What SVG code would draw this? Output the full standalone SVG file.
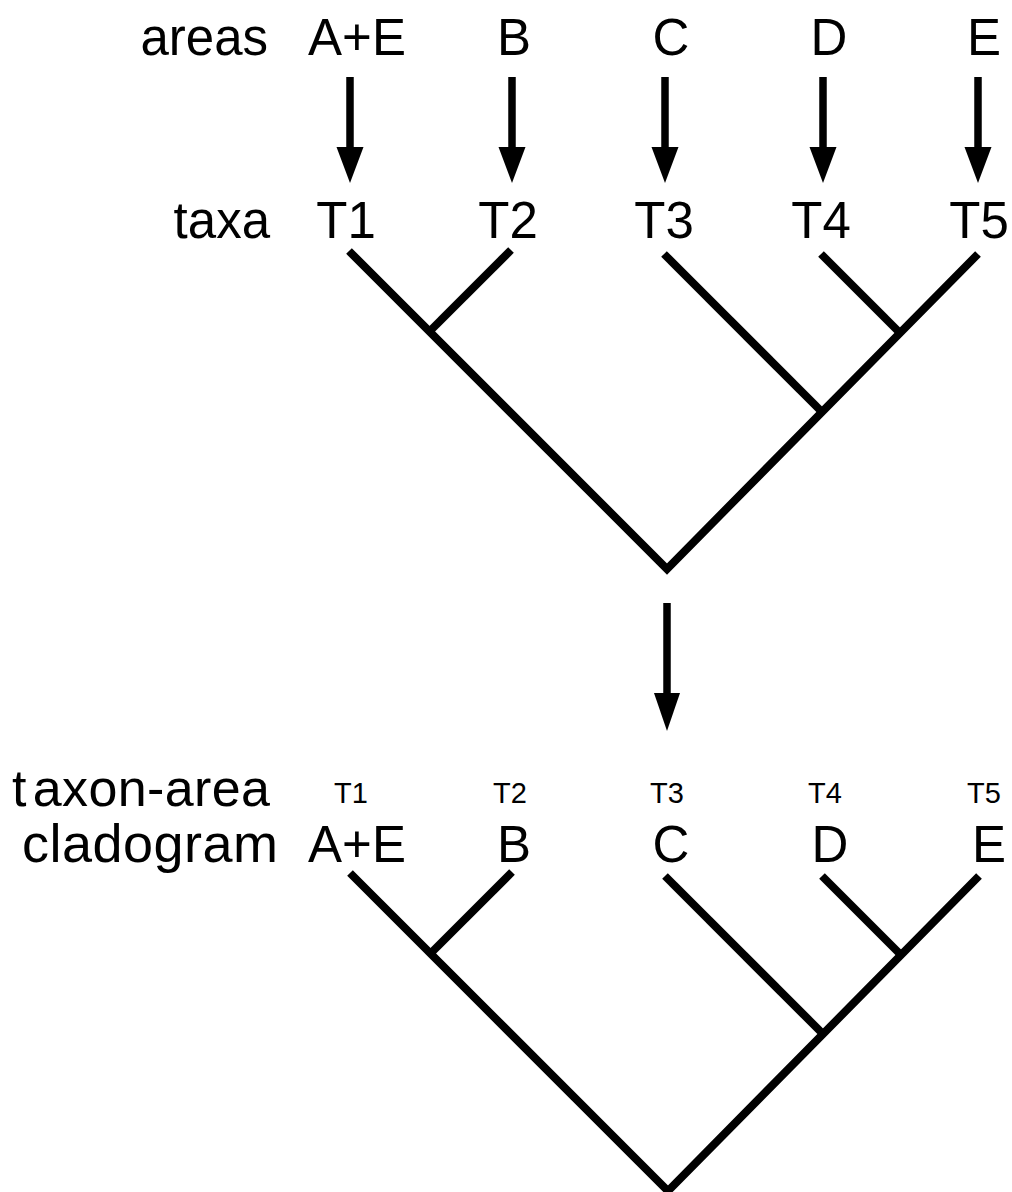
<svg xmlns="http://www.w3.org/2000/svg" width="1012" height="1192" viewBox="0 0 1012 1192">
<style>
text{font-family:"Liberation Sans",Arial,sans-serif;fill:#000}
.big{font-size:51px;text-anchor:middle}
.lab{font-size:51px;text-anchor:end}
.small{font-size:29px;text-anchor:middle}
.br{stroke:#000;stroke-width:8;fill:none;stroke-linecap:butt}
.sh{stroke:#000;stroke-width:7.5;fill:none}
.hd{fill:#000}
</style>
<rect width="1012" height="1192" fill="#fff"/>
<g id="labels">
<text class="lab" x="268" y="55">areas</text>
<text class="lab" x="270" y="238">taxa</text>
<text x="12" y="806" style="font-size:52px" textLength="258" lengthAdjust="spacing">t<tspan dx="6">axon-area</tspan></text>
<text x="22" y="862" style="font-size:54px" textLength="256" lengthAdjust="spacing">cladogram</text>
</g>
<g id="areas">
<text class="big" x="357" y="55">A+E</text>
<text class="big" x="514" y="55">B</text>
<text class="big" x="671" y="55">C</text>
<text class="big" x="829" y="55">D</text>
<text class="big" x="984" y="55">E</text>
</g>
<g id="taxa">
<text class="big" x="346" y="238">T1</text>
<text class="big" x="508" y="238">T2</text>
<text class="big" x="664" y="238">T3</text>
<text class="big" x="821" y="238">T4</text>
<text class="big" x="979" y="238">T5</text>
</g>
<g id="taxon-area">
<text class="small" x="351" y="803">T1</text>
<text class="small" x="510" y="803">T2</text>
<text class="small" x="667" y="803">T3</text>
<text class="small" x="825" y="803">T4</text>
<text class="small" x="984" y="803">T5</text>
<text class="big" x="357" y="862">A+E</text>
<text class="big" x="514" y="862">B</text>
<text class="big" x="671" y="862">C</text>
<text class="big" x="830" y="862">D</text>
<text class="big" x="989" y="862">E</text>
</g>
<g id="tree-top">
<path class="br" d="M349,251 L667,569 L978,254"/>
<path class="br" d="M511,250 L429,332"/>
<path class="br" d="M664,254 L822,412"/>
<path class="br" d="M821,254 L901,334"/>
</g>
<g id="tree-bottom" transform="translate(1,622)">
<path class="br" d="M349,251 L667,569 L978,254"/>
<path class="br" d="M511,250 L429,332"/>
<path class="br" d="M664,254 L822,412"/>
<path class="br" d="M821,254 L901,334"/>
</g>
<g id="connectors">
<g transform="translate(350,0)"><line class="sh" x1="0" y1="77" x2="0" y2="150"/><polygon class="hd" points="-13.5,147 13.5,147 0,183"/></g>
<g transform="translate(512,0)"><line class="sh" x1="0" y1="77" x2="0" y2="150"/><polygon class="hd" points="-13.5,147 13.5,147 0,183"/></g>
<g transform="translate(665,0)"><line class="sh" x1="0" y1="77" x2="0" y2="150"/><polygon class="hd" points="-13.5,147 13.5,147 0,183"/></g>
<g transform="translate(823,0)"><line class="sh" x1="0" y1="77" x2="0" y2="150"/><polygon class="hd" points="-13.5,147 13.5,147 0,183"/></g>
<g transform="translate(978,0)"><line class="sh" x1="0" y1="77" x2="0" y2="150"/><polygon class="hd" points="-13.5,147 13.5,147 0,183"/></g>
<g transform="translate(667,0)"><line class="sh" x1="0" y1="603" x2="0" y2="696"/><polygon class="hd" points="-13,693 13,693 0,731"/></g>
</g>
</svg>
